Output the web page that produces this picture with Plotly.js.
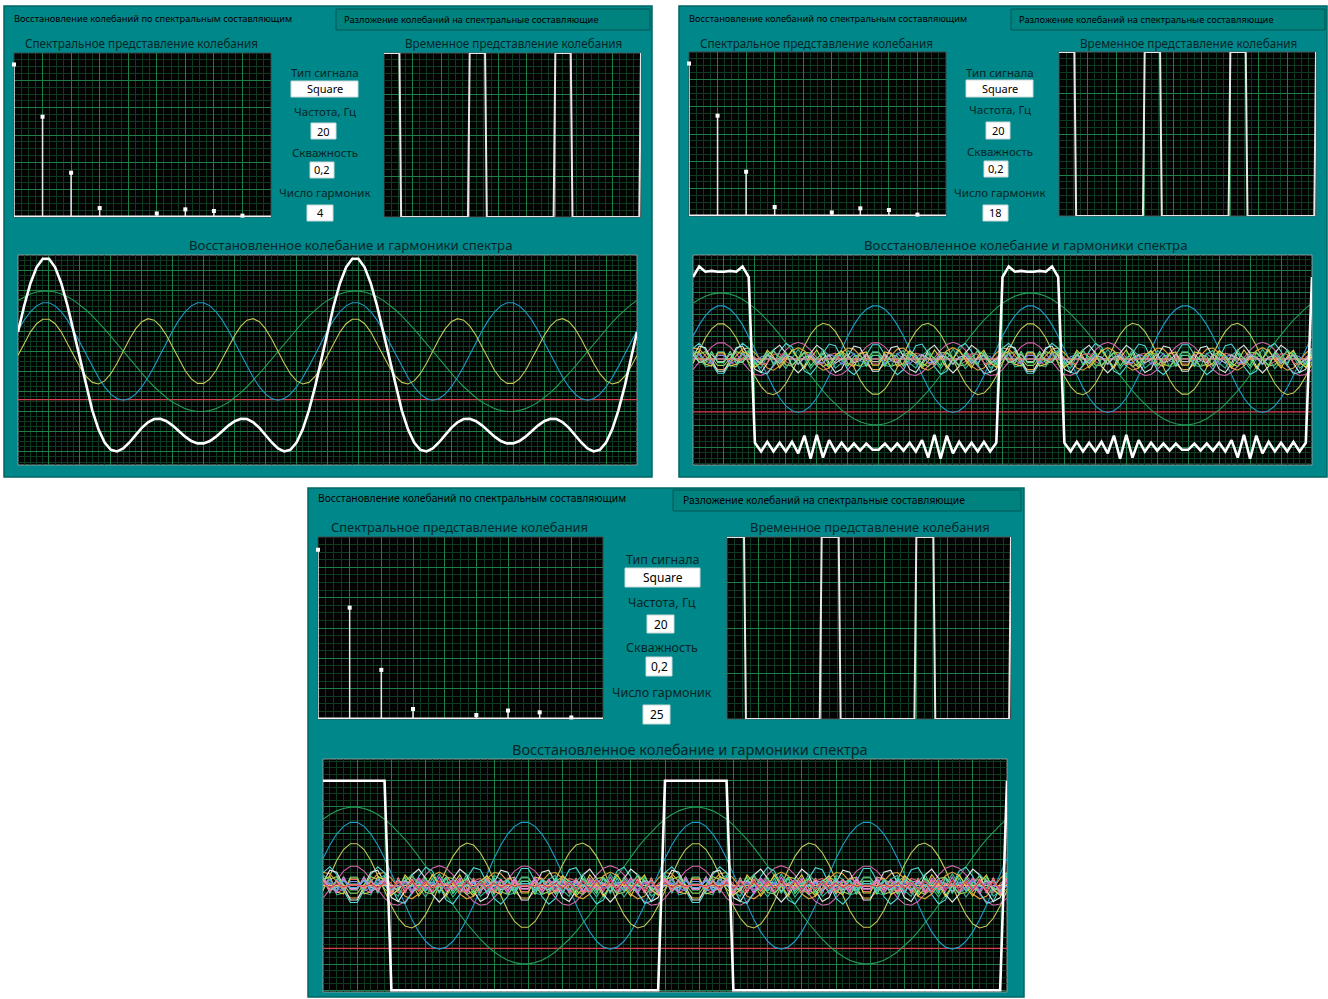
<!DOCTYPE html>
<html><head><meta charset="utf-8">
<script src="https://cdn.plot.ly/plotly-3.0.1.min.js"></script>
<style>html,body{margin:0;padding:0;background:#fff;overflow:hidden}#chart{width:1328px;height:999px}</style>
</head><body><div id="chart"></div>
<script>
// ================= DATA =================
const tabLabels = ['Восстановление колебаний по спектральным составляющим', 'Разложение колебаний на спектральные составляющие'];
const plotTitles = ['Спектральное представление колебания', 'Временное представление колебания', 'Восстановленное колебание и гармоники спектра'];
const controlLabels = ['Тип сигнала', 'Частота, Гц', 'Скважность', 'Число гармоник'];
const signalType = 'Square';
const frequencyText = '20';
const dutyText = '0,2';
const harmonicCounts = [4, 18, 25];            // one per screenshot
// spectrum bars (harmonic index -> amplitude)
const spectrumBins = [0, 1, 2, 3, 4, 5, 6, 7, 8];
const spectrumValues = [5.58, 3.67, 1.62, 0.33, 0, 0.13, 0.28, 0.22, 0.05];
// one period of the sampled square signal (20 Hz, 1 kHz sampling, duty 0.2)
const squarePeriodSamples = [1, 1, 1, 1, 1, 1, 1, 1, 1, 1,
  -1, -1, -1, -1, -1, -1, -1, -1, -1, -1, -1, -1, -1, -1, -1, -1, -1, -1, -1, -1,
  -1, -1, -1, -1, -1, -1, -1, -1, -1, -1, -1, -1, -1, -1, -1, -1, -1, -1, -1, -1];
// one period of the white reconstructed curve of the 18-harmonic screenshot
const reconstructed18Period = [0.93, 1.05, 0.99, 1.00, 0.99, 0.99, 1.00, 0.99, 1.05, 0.93,
  -0.95, -1.05, -0.94, -1.05, -0.95, -1.05, -0.94, -1.07, -0.87, -1.13,
  -0.86, -1.12, -0.92, -1.05, -0.95, -1.04, -0.96, -1.04, -0.96, -1.03,
  -1.03, -0.96, -1.04, -0.96, -1.04, -0.95, -1.05, -0.92, -1.12, -0.86,
  -1.13, -0.87, -1.07, -0.94, -1.05, -0.95, -1.05, -0.94, -1.05, -0.95];
const sampleStep = 0.001;      // s
const timePlotPeriods = 3;
const reconPeriods = 2;
// y ranges of the reconstruction graphs (autoscaled differently in each screenshot)
const reconYRanges = [[-1.412, 1.196], [-1.203, 1.18], [-1.016, 1.207]];
// colours of DC, 1st, 2nd, ... harmonic traces
const harmonicColors = ['#d8404e', '#239c55', '#1f9bc9', '#c6c85c', '#d862ae', '#5a5ac8', '#e3a13a',
  '#4fd8d8', '#e8e8e8', '#9bd35a', '#b070d8', '#f06070', '#3cb890', '#e0d040', '#7090f0', '#f08850',
  '#c0c0c0', '#60e080', '#e070e0', '#50b0f0', '#f0c070', '#a060c0', '#40d0b0', '#ff8090'];

// ================= LAYOUT GEOMETRY (px) =================
const W = 1328, H = 999;
const panels = [
  { box: [4, 6, 652, 477], tab2: [336, 9, 650, 30], tab1Text: [12, 18], tab2Text: [342, 19], tabFont: 9.3,
    specTitle: [141, 43], spec: [14, 53, 271, 217], timeTitle: [513, 43], time: [384, 53, 641, 217],
    ctrlX: 325, ctrlLabelY: [72, 111, 152, 193], ctrlBoxes: [[291, 81, 358, 97], [311, 123, 336, 139], [310, 162, 334, 178], [307, 205, 333, 221]],
    recTitle: [350, 245], rec: [18, 255, 637, 465], titleFont: 11.7, recFont: 13.2, ctrlFont: 11.5 },
  { box: [679, 6, 1327, 477], tab2: [1011, 9, 1325, 30], tab1Text: [687, 18], tab2Text: [1017, 19], tabFont: 9.3,
    specTitle: [816, 43], spec: [689, 52, 946, 216], timeTitle: [1188, 43], time: [1059, 52, 1316, 216],
    ctrlX: 1000, ctrlLabelY: [72, 110, 151, 193], ctrlBoxes: [[966, 80, 1033, 97], [986, 122, 1010, 139], [984, 161, 1008, 177], [983, 205, 1008, 221]],
    recTitle: [1025, 245], rec: [693, 255, 1312, 465], titleFont: 11.7, recFont: 13.2, ctrlFont: 11.5 },
  { box: [308, 488, 1024, 997], tab2: [673, 490, 1021, 511], tab1Text: [316, 498], tab2Text: [681, 500], tabFont: 10.3,
    specTitle: [459, 527], spec: [318, 537, 603, 719], timeTitle: [870, 527], time: [727, 537, 1011, 719],
    ctrlX: 662, ctrlLabelY: [559, 602, 647, 692], ctrlBoxes: [[625, 568, 700, 587], [647, 615, 674, 633], [646, 657, 672, 676], [643, 705, 670, 724]],
    recTitle: [690, 749], rec: [323, 759, 1007, 992], titleFont: 12.9, recFont: 14.5, ctrlFont: 12.5 }
];

const TEAL = '#00878a';
const MAJOR = '#1d7f47';
const MINOR = '#0d3a20';
const TXT = '#062626';
const FONT = 'Noto Sans, Open Sans, sans-serif';

const fx = p => p / W;
const fy = p => 1 - p / H;

// ================= SIGNAL PROCESSING =================
const N = squarePeriodSamples.length;
const dftRe = [], dftIm = [];
for (let n = 0; n <= N / 2; n++) {
  let re = 0, im = 0;
  for (let k = 0; k < N; k++) {
    re += squarePeriodSamples[k] * Math.cos(2 * Math.PI * n * k / N);
    im -= squarePeriodSamples[k] * Math.sin(2 * Math.PI * n * k / N);
  }
  dftRe.push(re); dftIm.push(im);
}
function component(n, k) {
  if (n === 0) return dftRe[0] / N;
  const th = 2 * Math.PI * n * k / N;
  return (2 / N) * (dftRe[n] * Math.cos(th) - dftIm[n] * Math.sin(th));
}

// ================= BUILD FIGURE =================
const data = [];
const layout = {
  width: W, height: H, margin: { l: 0, r: 0, t: 0, b: 0 },
  paper_bgcolor: '#ffffff', plot_bgcolor: 'rgba(0,0,0,0)', showlegend: false,
  shapes: [], annotations: [], font: { family: FONT }
};
let axN = 0;
function addAxes(rect, xr, yr, xg, yg, frame) {
  axN++;
  const xs = axN === 1 ? '' : axN, id = axN === 1 ? '' : axN;
  const common = { showticklabels: false, ticks: '', zeroline: false, fixedrange: true, showline: false, layer: 'below traces' };
  layout['xaxis' + xs] = Object.assign({}, common, {
    domain: [fx(rect[0]), fx(rect[2])], anchor: 'y' + id, range: xr,
    showgrid: true, gridcolor: MAJOR, gridwidth: 1, tick0: xg[0], dtick: xg[1],
    minor: { showgrid: true, gridcolor: MINOR, gridwidth: 1, tick0: xg[0], dtick: xg[2], ticks: '' }
  });
  layout['yaxis' + xs] = Object.assign({}, common, {
    domain: [fy(rect[3]), fy(rect[1])], anchor: 'x' + id, range: yr,
    showgrid: true, gridcolor: MAJOR, gridwidth: 1, tick0: yg[0], dtick: yg[1],
    minor: { showgrid: true, gridcolor: MINOR, gridwidth: 1, tick0: yg[0], dtick: yg[2], ticks: '' }
  });
  layout.shapes.push({ type: 'rect', xref: 'paper', yref: 'paper', layer: 'below',
    x0: fx(rect[0]), x1: fx(rect[2]), y0: fy(rect[3]), y1: fy(rect[1]), fillcolor: '#020302', line: { width: 1, color: frame } });
  return { x: 'x' + id, y: 'y' + id };
}

panels.forEach((P, pi) => {
  // panel background + tabs
  layout.shapes.push({ type: 'rect', xref: 'paper', yref: 'paper', layer: 'below',
    x0: fx(P.box[0]), x1: fx(P.box[2]), y0: fy(P.box[3]), y1: fy(P.box[1]), fillcolor: TEAL, line: { width: 1.5, color: '#006664' } });
  layout.shapes.push({ type: 'rect', xref: 'paper', yref: 'paper', layer: 'below',
    x0: fx(P.tab2[0]), x1: fx(P.tab2[2]), y0: fy(P.tab2[3]), y1: fy(P.tab2[1]), fillcolor: '#00827f', line: { width: 1, color: '#005755' } });
  layout.annotations.push({ xref: 'paper', yref: 'paper', x: fx(P.tab1Text[0]), y: fy(P.tab1Text[1]), xanchor: 'left', yanchor: 'middle',
    text: tabLabels[0], showarrow: false, font: { size: P.tabFont, color: '#000', family: FONT } });
  layout.annotations.push({ xref: 'paper', yref: 'paper', x: fx(P.tab2Text[0]), y: fy(P.tab2Text[1]), xanchor: 'left', yanchor: 'middle',
    text: tabLabels[1], showarrow: false, font: { size: P.tabFont, color: '#000', family: FONT } });
  // titles
  [[P.specTitle, 0, P.titleFont], [P.timeTitle, 1, P.titleFont], [P.recTitle, 2, P.recFont]].forEach(([pos, ti, fs]) => {
    layout.annotations.push({ xref: 'paper', yref: 'paper', x: fx(pos[0]), y: fy(pos[1]), xanchor: 'center', yanchor: 'middle',
      text: plotTitles[ti], showarrow: false, font: { size: fs, color: TXT, family: FONT } });
  });
  // controls
  const values = [signalType, frequencyText, dutyText, String(harmonicCounts[pi])];
  controlLabels.forEach((lab, ci) => {
    layout.annotations.push({ xref: 'paper', yref: 'paper', x: fx(P.ctrlX), y: fy(P.ctrlLabelY[ci]), xanchor: 'center', yanchor: 'middle',
      text: lab, showarrow: false, font: { size: P.ctrlFont, color: TXT, family: FONT } });
    const b = P.ctrlBoxes[ci];
    layout.shapes.push({ type: 'rect', xref: 'paper', yref: 'paper', layer: 'below',
      x0: fx(b[0]), x1: fx(b[2]), y0: fy(b[3]), y1: fy(b[1]), fillcolor: '#ffffff', line: { width: 1, color: '#c8d8d8' } });
    layout.annotations.push({ xref: 'paper', yref: 'paper', x: fx((b[0] + b[2]) / 2), y: fy((b[1] + b[3]) / 2), xanchor: 'center', yanchor: 'middle',
      text: values[ci], showarrow: false, font: { size: P.ctrlFont - 0.5, color: '#000', family: FONT } });
  });

  // ---- spectrum graph ----
  const sa = addAxes(P.spec, [0, 9], [0, 6], [0, 1, 0.25], [0, 1, 0.25], '#404848');
  const sx = [], sy = [];
  spectrumBins.forEach((b, i) => { sx.push(b, b, null); sy.push(0, spectrumValues[i], null); });
  data.push({ type: 'scatter', mode: 'lines', x: sx, y: sy, xaxis: sa.x, yaxis: sa.y, line: { color: '#e8e8e8', width: 1.5 }, cliponaxis: false, hoverinfo: 'skip' });
  data.push({ type: 'scatter', mode: 'markers', x: spectrumBins.filter((b, i) => spectrumValues[i] > 0), y: spectrumValues.filter(v => v > 0),
    xaxis: sa.x, yaxis: sa.y, marker: { symbol: 'square', size: 4, color: '#ffffff', line: { width: 0 } }, cliponaxis: false, hoverinfo: 'skip' });
  data.push({ type: 'scatter', mode: 'lines', x: [0, 9], y: [0, 0], xaxis: sa.x, yaxis: sa.y, line: { color: '#f4f4f4', width: 3 }, cliponaxis: false, hoverinfo: 'skip' });

  // ---- time graph ----
  const tEnd = timePlotPeriods * N * sampleStep;
  const ta = addAxes(P.time, [0, tEnd], [-1, 1], [0, tEnd / 9, tEnd / 36], [-1, 0.5, 0.5 / 6], '#505858');
  const tx = [], ty = [];
  for (let k = 0; k <= timePlotPeriods * N; k++) { tx.push(k * sampleStep); ty.push(squarePeriodSamples[k % N]); }
  data.push({ type: 'scatter', mode: 'lines', x: tx, y: ty, xaxis: ta.x, yaxis: ta.y, line: { color: '#e6e6e6', width: 2 }, hoverinfo: 'skip' });

  // ---- reconstruction graph ----
  const rEnd = reconPeriods * N * sampleStep;
  const ra = addAxes(P.rec, [0, rEnd], reconYRanges[pi], [0, 0.005, 0.001], [0, 0.25, 0.0625], '#8a9a9a');
  const rx = [];
  for (let k = 0; k <= reconPeriods * N; k++) rx.push(k * sampleStep);
  let sum = rx.map(() => 0);
  for (let n = 0; n < harmonicCounts[pi]; n++) {
    const yv = rx.map((_, k) => component(n, k));
    yv.forEach((v, k) => { sum[k] += v; });
    data.push({ type: 'scatter', mode: 'lines', x: rx, y: yv, xaxis: ra.x, yaxis: ra.y,
      line: { color: harmonicColors[n % harmonicColors.length], width: 1.1 }, hoverinfo: 'skip' });
  }
  if (harmonicCounts[pi] === 18) sum = rx.map((_, k) => reconstructed18Period[k % N]);
  data.push({ type: 'scatter', mode: 'lines', x: rx, y: sum, xaxis: ra.x, yaxis: ra.y, line: { color: '#ffffff', width: 2.6 }, hoverinfo: 'skip' });
});

Plotly.newPlot('chart', data, layout, { staticPlot: true, displayModeBar: false });
</script></body></html>
